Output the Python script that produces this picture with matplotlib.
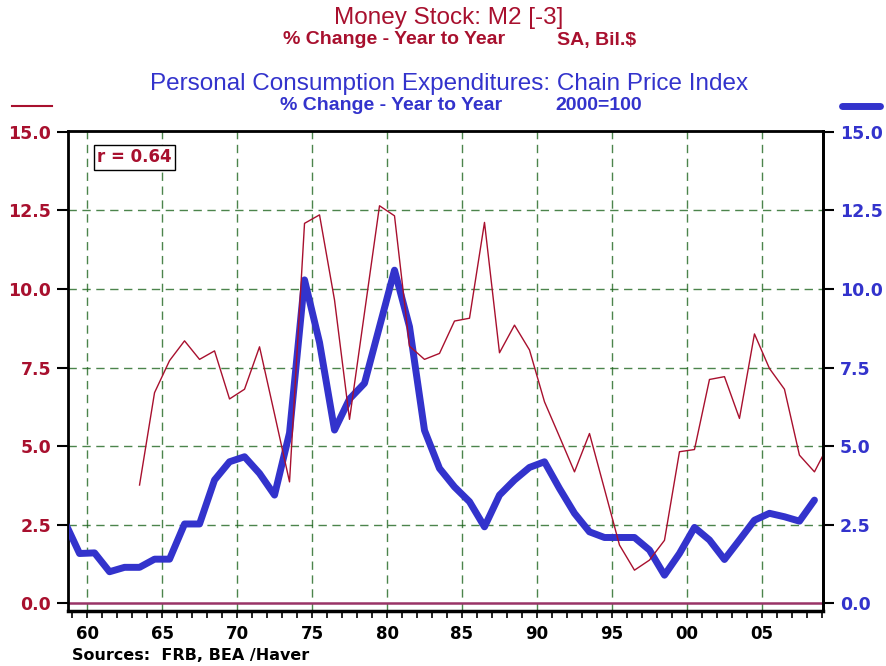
import numpy as np
import matplotlib
matplotlib.use('Agg')
import matplotlib.pyplot as plt
from matplotlib.lines import Line2D

# annual data, plotted at mid-year
pce_years = list(range(1958, 2009))
pce = [2.60, 1.58, 1.60, 1.00, 1.14, 1.14, 1.40, 1.40, 2.52, 2.52,
       3.92, 4.50, 4.66, 4.13, 3.44, 5.42, 10.29, 8.30, 5.51, 6.50,
       7.00, 8.80, 10.60, 8.80, 5.50, 4.29, 3.70, 3.23, 2.43, 3.44,
       3.92, 4.32, 4.50, 3.65, 2.86, 2.27, 2.09, 2.09, 2.09, 1.69,
       0.89, 1.58, 2.41, 2.01, 1.39, 2.01, 2.64, 2.86, 2.75, 2.61,
       3.28]

m2_years = list(range(1963, 2010))
m2 = [3.76, 6.70, 7.72, 8.35, 7.76, 8.03, 6.50, 6.81, 8.16, 6.02,
      3.86, 12.09, 12.36, 9.65, 5.85, 9.25, 12.65, 12.33, 8.18, 7.76,
      7.95, 8.98, 9.07, 12.12, 7.97, 8.85, 8.06, 6.41, 5.30, 4.18,
      5.40, 3.63, 1.85, 1.05, 1.37, 2.00, 4.82, 4.89, 7.12, 7.21,
      5.88, 8.57, 7.47, 6.81, 4.71, 4.18, 5.10]

x_ticks = [1960, 1965, 1970, 1975, 1980, 1985, 1990, 1995, 2000, 2005]
x_labels = ['60', '65', '70', '75', '80', '85', '90', '95', '00', '05']
y_ticks = [0.0, 2.5, 5.0, 7.5, 10.0, 12.5, 15.0]

RED = '#A8102E'
BLUE = '#3333CC'
GRID = '#1f661f'
SANS = ['Liberation Sans', 'DejaVu Sans']

W, H = 886, 666
fig = plt.figure(figsize=(W / 100, H / 100), dpi=100)
ax = fig.add_axes([68 / W, 1 - 611 / H, (823 - 68) / W, (611 - 131) / H])

ax.set_xlim(1958.73, 2009.07)
ax.set_ylim(-0.25, 15.03)

ax.plot(np.array(pce_years) + 0.5, pce, color=BLUE, lw=5.0,
        solid_joinstyle='round', solid_capstyle='round', zorder=3)
ax.plot(np.array(m2_years) + 0.5, m2, color=RED, lw=1.0, zorder=4)
ax.axhline(0, color='#993366', lw=1.8, zorder=2)

ax.set_xticks(x_ticks)
ax.set_xticklabels(x_labels, fontsize=12, fontweight='bold')
ax.set_xticks(range(1959, 2010), minor=True)
ax.tick_params(axis='x', which='both', direction='out', length=5, width=1.2,
               pad=5)
ax.set_yticks(y_ticks)
ax.set_yticklabels(['%.1f' % v for v in y_ticks], fontsize=12.5,
                   fontweight='bold', color=RED)
ax.tick_params(axis='y', direction='out', length=8, width=1.5, pad=4)

for xv in x_ticks:
    ax.axvline(xv, color=GRID, lw=1, dashes=(6, 4), alpha=0.8, zorder=1)
for yv in y_ticks[1:-1]:
    ax.axhline(yv, color=GRID, lw=1, dashes=(6, 4), alpha=0.8, zorder=1)

for s in ['left', 'right', 'top']:
    ax.spines[s].set_linewidth(2)
ax.spines['bottom'].set_linewidth(2.5)

ax2 = ax.twinx()
ax2.set_ylim(ax.get_ylim())
ax2.set_yticks(y_ticks)
ax2.set_yticklabels(['%.1f' % v for v in y_ticks], fontsize=12.5,
                    fontweight='bold', color=BLUE)
ax2.tick_params(axis='y', direction='out', length=8, width=1.5, pad=4)
ax2.spines['right'].set_linewidth(2)

ax.text(0.0385, 0.945, 'r = 0.64', transform=ax.transAxes, color=RED,
        fontsize=12, fontweight='bold', va='center', ha='left',
        bbox=dict(boxstyle='square,pad=0.2', fc='white', ec='black', lw=1))

# titles
fig.text(449 / W, 1 - 18 / H, 'Money Stock: M2 [-3]', color=RED,
         fontsize=17.5, family=SANS, ha='center', va='center')
fig.text(283 / W, 1 - 40 / H, '% Change - Year to Year', color=RED,
         fontsize=14, fontweight='bold', family=SANS, ha='left', va='center')
fig.text(557 / W, 1 - 40 / H, 'SA, Bil.$', color=RED,
         fontsize=14, fontweight='bold', family=SANS, ha='left', va='center')
fig.text(449 / W, 1 - 84 / H,
         'Personal Consumption Expenditures: Chain Price Index', color=BLUE,
         fontsize=17.5, family=SANS, ha='center', va='center')
fig.text(280 / W, 1 - 106 / H, '% Change - Year to Year', color=BLUE,
         fontsize=14, fontweight='bold', family=SANS, ha='left', va='center')
fig.text(555 / W, 1 - 106 / H, '2000=100', color=BLUE,
         fontsize=14, fontweight='bold', family=SANS, ha='left', va='center')

# legend swatches
fig.add_artist(Line2D([12 / W, 52 / W], [1 - 106 / H, 1 - 106 / H],
                      color=RED, lw=1.5))
fig.add_artist(Line2D([842 / W, 880 / W], [1 - 106 / H, 1 - 106 / H],
                      color=BLUE, lw=5.0, solid_capstyle='round'))

fig.text(72 / W, 1 - 655 / H, 'Sources:  FRB, BEA /Haver', fontsize=11.5,
         fontweight='bold', ha='left', va='center')

fig.savefig('out.png', dpi=100)
